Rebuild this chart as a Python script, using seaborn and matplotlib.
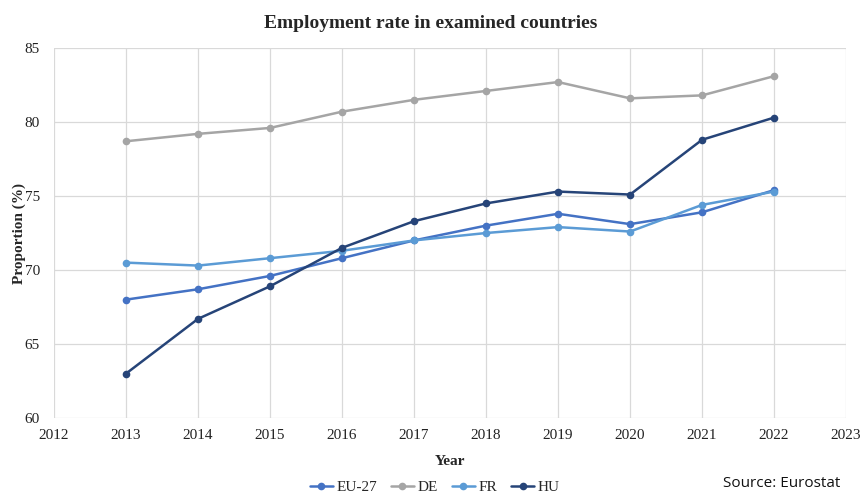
import matplotlib
matplotlib.use("Agg")
import matplotlib.pyplot as plt
import seaborn as sns
import pandas as pd

years = [2013, 2014, 2015, 2016, 2017, 2018, 2019, 2020, 2021, 2022]
eu27 = [68.0, 68.7, 69.6, 70.8, 72.0, 73.0, 73.8, 73.1, 73.9, 75.4]
de = [78.7, 79.2, 79.6, 80.7, 81.5, 82.1, 82.7, 81.6, 81.8, 83.1]
fr = [70.5, 70.3, 70.8, 71.3, 72.0, 72.5, 72.9, 72.6, 74.4, 75.3]
hu = [63.0, 66.7, 68.9, 71.5, 73.3, 74.5, 75.3, 75.1, 78.8, 80.3]
series_names = ["EU-27", "DE", "FR", "HU"]
colors = ["#4472C4", "#A5A5A5", "#5B9BD5", "#264478"]
x_ticks = list(range(2012, 2024))
y_ticks = [60, 65, 70, 75, 80, 85]

frames = []
for name, vals in zip(series_names, [eu27, de, fr, hu]):
    frames.append(pd.DataFrame({"Year": years, "Proportion": vals, "Country": name}))
df = pd.concat(frames, ignore_index=True)

sns.set_theme(style="white")
plt.rcParams["font.family"] = ["Liberation Serif", "DejaVu Serif"]

fig = plt.figure(figsize=(8.61, 4.94), dpi=100)
ax = fig.add_axes([0.0627, 0.1538, 0.92, 0.749])

sns.lineplot(data=df, x="Year", y="Proportion", hue="Country",
             hue_order=series_names, palette=colors, marker="o",
             markersize=5.5, markeredgewidth=0, linewidth=1.8, ax=ax)

ax.set_xlim(2012, 2023)
ax.set_ylim(60, 85)
ax.set_xticks(x_ticks)
ax.set_yticks(y_ticks)
ax.tick_params(axis="x", labelsize=11, length=0, pad=8, colors="#222222")
ax.tick_params(axis="y", labelsize=11, length=0, pad=10, colors="#222222")
ax.grid(True, color="#D9D9D9", linewidth=0.9)
ax.set_axisbelow(True)
for s in ax.spines.values():
    s.set_visible(False)

ax.set_xlabel("Year", fontsize=11, fontweight="bold", labelpad=9)
ax.set_ylabel("Proportion (%)", fontsize=11, fontweight="bold", labelpad=-1)
fig.suptitle("Employment rate in examined countries", fontsize=14,
             fontweight="bold", y=0.97)

sns.move_legend(ax, "lower center", bbox_to_anchor=(0.505, -0.016),
                bbox_transform=fig.transFigure, ncol=4, frameon=False,
                title=None, fontsize=11, handlelength=1.5, columnspacing=0.9,
                handletextpad=0.25, borderaxespad=0.1)

fig.text(0.976, 0.006, "Source: Eurostat", ha="right", va="bottom",
         fontsize=11, family=["Open Sans", "DejaVu Sans"], color="#111111")

fig.savefig("out.png", dpi=100)
